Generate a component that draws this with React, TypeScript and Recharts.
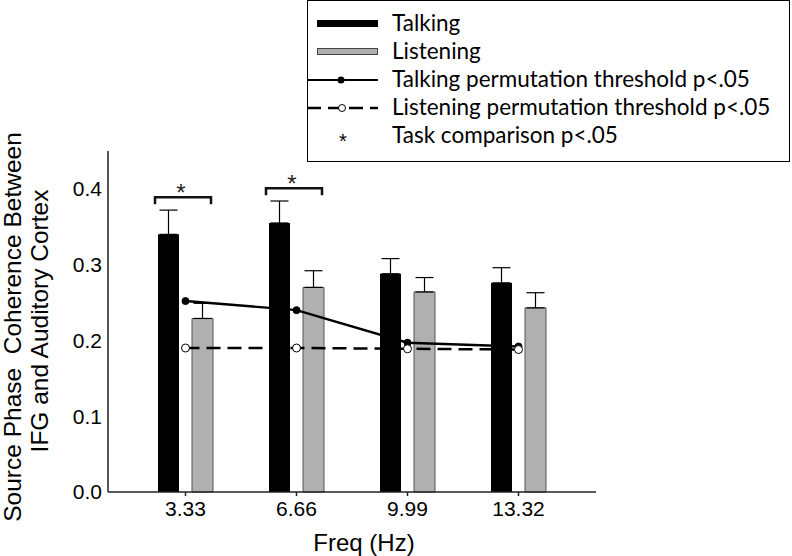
import { ComposedChart, Bar, Line, XAxis, YAxis, ErrorBar } from "recharts"

const freqs = ["3.33", "6.66", "9.99", "13.32"]
const talking = [0.34, 0.355, 0.288, 0.276]
const talkingErr = [0.032, 0.029, 0.02, 0.02]
const listening = [0.229, 0.27, 0.264, 0.243]
const listeningErr = [0.02, 0.022, 0.019, 0.02]
const talkingThreshold = [0.252, 0.24, 0.197, 0.192]
const listeningThreshold = [0.19, 0.19, 0.189, 0.188]
const significance = [0.389, 0.401, null, null]
const yTicks = [0, 0.1, 0.2, 0.3, 0.4]

const data = freqs.map((f, i) => ({
  freq: f,
  talking: talking[i],
  talkingErr: [0, talkingErr[i]],
  listening: listening[i],
  listeningErr: [0, listeningErr[i]],
  talkingThr: talkingThreshold[i],
  listeningThr: listeningThreshold[i],
  sig: significance[i],
}))

const axisFont = "'Liberation Sans', Arial, sans-serif"
const legendFont = "Lato, 'Open Sans', sans-serif"

function TalkingBar(props: any) {
  const { x, y, width, height, payload } = props
  const base = y + height
  const perUnit = height / payload.talking
  const bracket = payload.sig != null ? base - payload.sig * perUnit : null
  const left = x - 3
  const right = x + 53
  return (
    <g>
      <rect x={x} y={y} width={width} height={height} fill="#000" />
      {bracket != null ? (
        <g>
          <path
            d={`M${left},${bracket + 7} L${left},${bracket} L${right},${bracket} L${right},${bracket + 7}`}
            fill="none"
            stroke="#111"
            strokeWidth={2.5}
          />
          <text x={(left + right) / 2 - 2} y={bracket + 4} textAnchor="middle" fontSize={24} fontFamily={axisFont} fill="#222">
            *
          </text>
        </g>
      ) : null}
    </g>
  )
}

const legendRows = [
  { name: "Talking", kind: "black" },
  { name: "Listening", kind: "gray" },
  { name: "Talking permutation threshold p<.05", kind: "solid" },
  { name: "Listening permutation threshold p<.05", kind: "dashed" },
  { name: "Task comparison p<.05", kind: "star" },
]

function LegendBox() {
  return (
    <svg width={485} height={164} style={{ position: "absolute", left: 307, top: 0, display: "block" }}>
      <rect x={0.5} y={0.5} width={482} height={161} fill="#fff" stroke="#000" strokeWidth={1} />
      {legendRows.map((r, i) => {
        const cy = 24 + i * 28
        return (
          <g key={r.name}>
            {r.kind === "black" ? <rect x={10} y={cy - 4} width={61} height={7} fill="#000" /> : null}
            {r.kind === "gray" ? <rect x={10.5} y={cy - 3.5} width={60} height={6} fill="#b0b0b0" stroke="#444" /> : null}
            {r.kind === "solid" ? (
              <g>
                <line x1={0} x2={71} y1={cy} y2={cy} stroke="#000" strokeWidth={2} />
                <circle cx={34} cy={cy} r={3.5} fill="#000" />
              </g>
            ) : null}
            {r.kind === "dashed" ? (
              <g>
                <line x1={0} x2={71} y1={cy} y2={cy} stroke="#000" strokeWidth={2.5} strokeDasharray="14 7" />
                <circle cx={35} cy={cy} r={3.5} fill="#fff" stroke="#000" strokeWidth={1} />
              </g>
            ) : null}
            {r.kind === "star" ? (
              <text x={36} y={cy + 12} textAnchor="middle" fontSize={20} fontFamily={axisFont} fill="#000">
                *
              </text>
            ) : null}
            <text x={85} y={cy + 7} fontSize={22.5} fontFamily={legendFont} fill="#000">
              {r.name}
            </text>
          </g>
        )
      })}
    </svg>
  )
}

function YLabel() {
  return (
    <g fontFamily={axisFont} fontSize={24.5} fill="#000" textAnchor="middle">
      <text x={21} y={327} transform="rotate(-90, 21, 327)" style={{ whiteSpace: "pre" }}>
        {"Source Phase  Coherence Between"}
      </text>
      <text x={48} y={321} transform="rotate(-90, 48, 321)">
        IFG and Auditory Cortex
      </text>
    </g>
  )
}

export default function App() {
  return (
    <div style={{ position: "absolute", left: 0, top: 0, width: 792, height: 556, background: "#fff" }}>
      <ComposedChart
        width={792}
        height={556}
        data={data}
        margin={{ top: 151, right: 196, bottom: 0, left: 0 }}
        barSize={21}
        barGap={13}
      >
        <XAxis
          dataKey="freq"
          padding={{ left: 22, right: 22 }}
          height={64}
          tickSize={4}
          tickMargin={5}
          stroke="#222"
          strokeWidth={1.5}
          tick={{ fontSize: 21, fill: "#000", fontFamily: axisFont }}
          label={{ value: "Freq (Hz)", position: "insideBottom", offset: 5, dx: 12, fontSize: 24, fill: "#000", fontFamily: axisFont }}
        />
        <YAxis
          width={108}
          domain={[0, 0.45]}
          ticks={yTicks}
          tickFormatter={(v: number) => v.toFixed(1)}
          tickLine={false}
          tickSize={0}
          tickMargin={6}
          stroke="#222"
          strokeWidth={1.5}
          tick={{ fontSize: 21, fill: "#000", fontFamily: axisFont }}
          label={{ content: () => <YLabel /> }}
        />
        <Bar dataKey="talking" name="Talking" fill="#000" shape={(p: any) => <TalkingBar {...p} />} isAnimationActive={false}>
          <ErrorBar dataKey="talkingErr" width={9} stroke="#000" strokeWidth={1.2} direction="y" />
        </Bar>
        <Bar dataKey="listening" name="Listening" fill="#b0b0b0" stroke="#555" strokeWidth={1} isAnimationActive={false}>
          <ErrorBar dataKey="listeningErr" width={9} stroke="#000" strokeWidth={1.2} direction="y" />
        </Bar>
        <Line
          dataKey="talkingThr"
          stroke="#000"
          strokeWidth={2.4}
          dot={{ r: 3.5, fill: "#000", stroke: "#000", strokeWidth: 1 }}
          activeDot={false}
          isAnimationActive={false}
        />
        <Line
          dataKey="listeningThr"
          stroke="#000"
          strokeWidth={2.5}
          strokeDasharray="14 7"
          dot={{ r: 4, fill: "#fff", stroke: "#000", strokeWidth: 1, strokeDasharray: "" }}
          activeDot={false}
          isAnimationActive={false}
        />
      </ComposedChart>
      <LegendBox />
    </div>
  )
}
